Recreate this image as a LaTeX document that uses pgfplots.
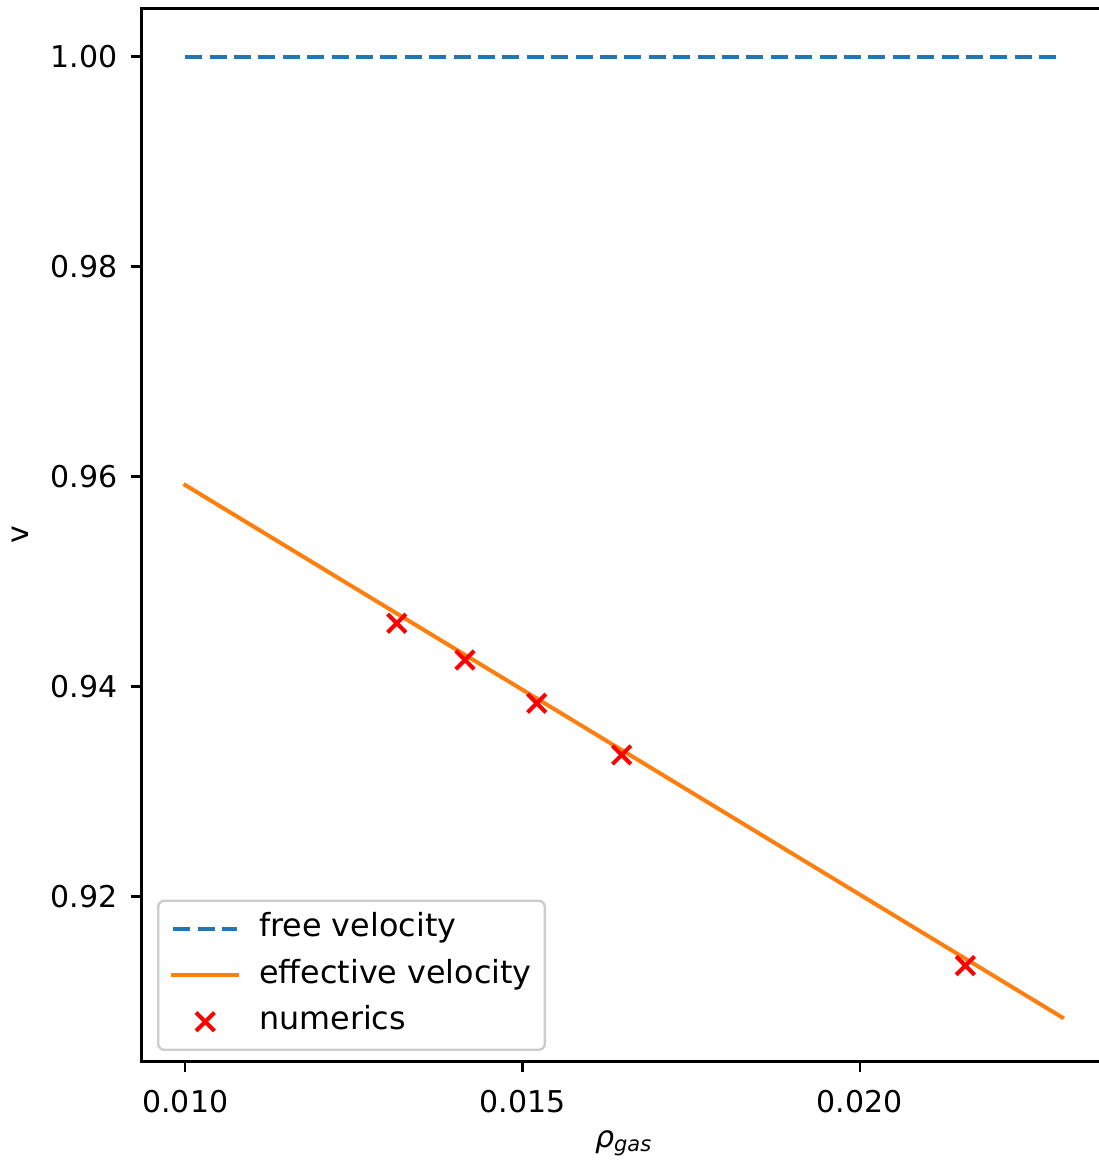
\documentclass[border=0pt]{standalone}
\usepackage{fontspec}
\setmainfont{DejaVu Sans}
\usepackage{pgfplots}
\pgfplotsset{compat=1.18}
\definecolor{tabblue}{HTML}{1F77B4}
\definecolor{taborange}{HTML}{FF7F0E}
\definecolor{legframe}{HTML}{CCCCCC}
\begin{document}
\begin{tikzpicture}
\begin{axis}[
  scale only axis,
  width=482.3pt, height=526.3pt,
  xmin=0.00935, xmax=0.02365,
  ymin=0.90432, ymax=1.00457,
  xtick={0.010,0.015,0.020},
  xticklabels={0.010,0.015,0.020},
  ytick={0.92,0.94,0.96,0.98,1.00},
  yticklabels={0.92,0.94,0.96,0.98,1.00},
  scaled ticks=false,
  tick align=outside,
  xtick pos=bottom, ytick pos=left,
  major tick length=5.25pt,
  every tick/.style={black, line width=1.2pt},
  axis line style={line width=1.2pt},
  font=\fontsize{15}{18}\selectfont,
  yticklabel style={anchor=east, inner xsep=0pt, xshift=-6.5pt},
  xticklabel style={anchor=north, inner ysep=0pt, yshift=-9pt},
  xlabel={\textit{ρ}\textsubscript{\textit{gas}}},
  ylabel={v},
  xlabel style={at={(axis description cs:0.5,-0.0815)}, anchor=base},
  ylabel style={at={(axis description cs:-0.1259,0.5)}, anchor=center},
  legend cell align=left,
  legend style={
    at={(0.0162,0.0098)}, anchor=south west,
    draw=legframe, line width=1.2pt, rounded corners=3pt, fill=white,
    font=\fontsize{15.9}{19}\selectfont,
    inner xsep=6.5pt, inner ysep=6.4pt,
    row sep=8.05pt, column sep=10pt,
    nodes={inner sep=0pt, text height=11.5pt, text depth=3.7pt},
  },
  legend image code/.code={
    \draw[mark repeat=2, mark phase=2, #1] plot coordinates {(0pt,0pt) (16pt,0pt) (32pt,0pt)};
  },
]
\addplot[tabblue, line width=2pt, dash pattern=on 8.5pt off 3.7pt] coordinates {
  (0.010,1.0) (0.023,1.0)
};
\addlegendentry{free velocity}
\addplot[taborange, line width=2pt, line cap=rect] coordinates {
  (0.010,0.9592) (0.023,0.9085)
};
\addlegendentry{effective velocity}
\addplot[only marks, mark=x, mark size=6.5pt, mark options={red, line width=2pt}] coordinates {
  (0.013136,0.94604)
  (0.014148,0.94254)
  (0.015210,0.93842)
  (0.016470,0.93350)
  (0.021566,0.91343)
};
\addlegendentry{numerics}
\end{axis}
\pgfresetboundingbox
\path[use as bounding box] (-70.7pt,-51.35pt) rectangle (478.8pt,530.65pt);
\end{tikzpicture}
\end{document}
